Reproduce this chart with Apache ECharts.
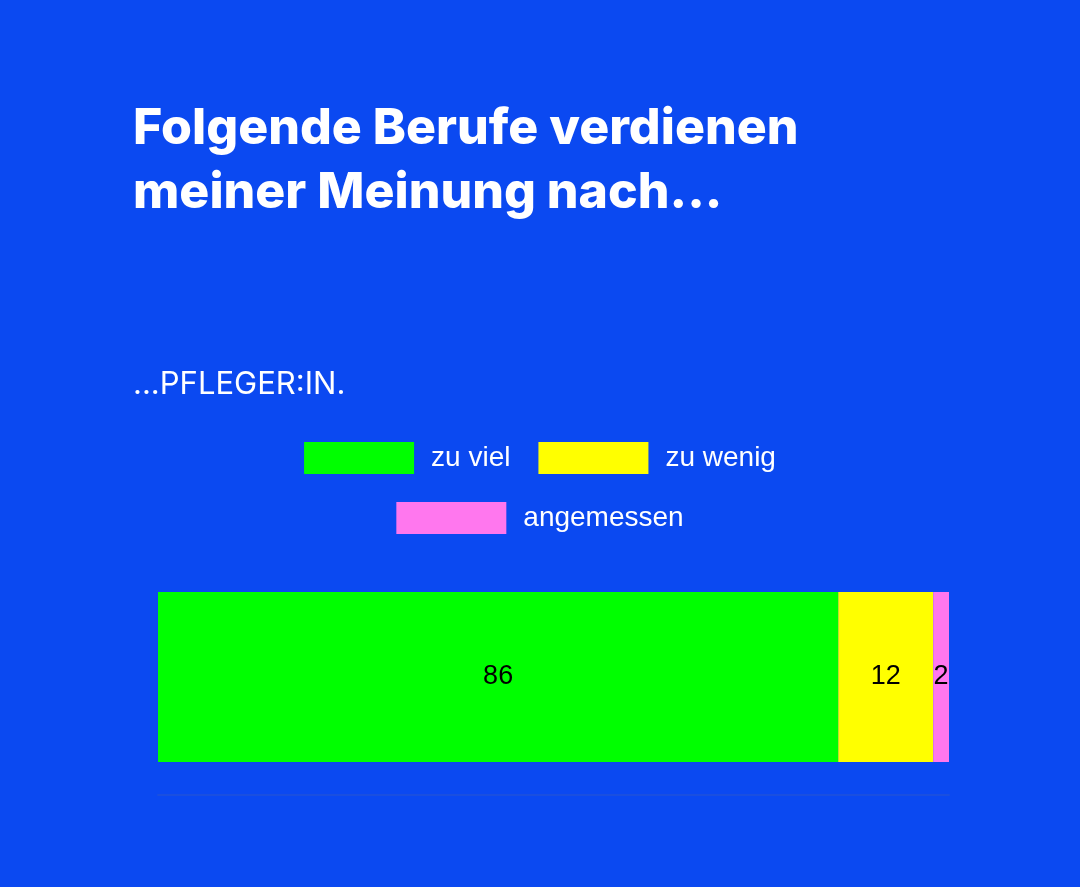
<!DOCTYPE html>
<html><head><meta charset="utf-8">
<script src="https://cdn.jsdelivr.net/npm/echarts@6/dist/echarts.min.js"></script>
<style>html,body{margin:0;padding:0;background:#0b49f1}#c{width:1080px;height:887px}</style>
</head><body><div id="c"></div>
<script>
const categories = ['Pfleger:in'];
const seriesNames = ['zu viel', 'zu wenig', 'angemessen'];
const seriesValues = [[86], [12], [2]];
const colors = ['#00ff00', '#ffff00', '#ff77ee'];

const legendBase = {
  left: 'center', itemWidth: 110, itemHeight: 32, itemGap: 28, icon: 'rect',
  textStyle: { color: '#fff', fontSize: 28, fontFamily: 'Liberation Sans', padding: [0, 0, 0, 12] }
};

const chart = echarts.init(document.getElementById('c'));
chart.setOption({
  backgroundColor: '#0b49f1',
  title: [
    { text: 'Folgende Berufe verdienen\nmeiner Meinung nach...', left: 128, top: 92,
      textStyle: { color: '#fff', fontSize: 50, fontWeight: 800, fontFamily: 'Inter', lineHeight: 64 } },
    { text: '...PFLEGER:IN.', left: 128, top: 364,
      textStyle: { color: '#fff', fontSize: 31, fontWeight: 'normal', fontFamily: 'Inter' } }
  ],
  legend: [
    Object.assign({}, legendBase, { data: seriesNames.slice(0, 2), top: 437 }),
    Object.assign({}, legendBase, { data: seriesNames.slice(2), top: 497 })
  ],
  grid: { left: 158, right: 131, top: 592, bottom: 125 },
  xAxis: {
    type: 'value', min: 0, max: 100, offset: 33,
    axisLine: { show: true, lineStyle: { color: '#1a4fe0', width: 2 } },
    axisTick: { show: false }, axisLabel: { show: false }, splitLine: { show: false }
  },
  yAxis: { type: 'category', data: categories, show: false },
  series: seriesNames.map((n, i) => ({
    name: n, type: 'bar', stack: 'all', data: seriesValues[i], barWidth: '100%',
    itemStyle: { color: colors[i] },
    label: { show: true, position: 'inside', color: '#000', fontSize: 27, fontFamily: 'Liberation Sans' }
  }))
});
</script></body></html>
